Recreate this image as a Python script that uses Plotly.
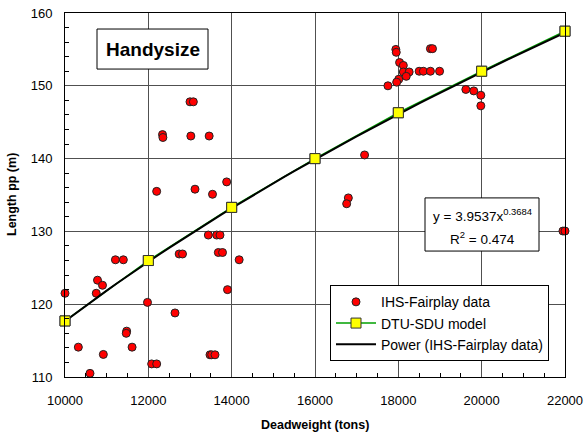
import plotly.graph_objects as go

# IHS-Fairplay data (deadweight tons, length pp m)
ihs_dwt = [13000, 13080, 12340, 12350, 13020, 13460, 12200, 13120, 13540, 13880,
           17940, 17950, 18770, 18820, 18030, 18120, 18120, 18260, 18190, 18010,
           17960, 17750, 18500, 18600, 18770, 18990, 19620, 19810, 19980, 19980,
           17190, 16800, 16760, 21950, 22000,
           13440, 13640, 13720, 12740, 12820, 13680, 13780, 11210, 11400, 14180,
           10780, 10900, 10000, 10750, 13900, 11980, 12640, 11480, 11470, 10320,
           11610, 10920, 13480, 13520, 13600, 12080, 12200, 10600]
ihs_len = [147.8, 147.8, 143.3, 142.9, 143.1, 143.1, 135.5, 135.8, 135.1, 136.8,
           155.0, 154.6, 155.1, 155.1, 153.2, 152.8, 151.9, 151.9, 151.3, 150.9,
           150.5, 150.0, 152.0, 152.0, 152.0, 152.0, 149.5, 149.3, 148.7, 147.25,
           140.5, 134.6, 133.8, 130.05, 130.05,
           129.5, 129.5, 129.5, 126.9, 126.9, 127.1, 127.1, 126.1, 126.1, 126.1,
           123.3, 122.6, 121.5, 121.5, 122.0, 120.25, 118.8, 116.3, 116.0, 114.1,
           114.1, 113.1, 113.05, 113.05, 113.05, 111.8, 111.8, 110.5]

# DTU-SDU model
model_dwt = [10000, 12000, 14000, 16000, 18000, 20000, 22000]
model_len = [117.7, 126.0, 133.3, 140.0, 146.3, 152.0, 157.5]

# Power fit (IHS-Fairplay data) as stated on the chart
fit_a = 3.9537
fit_b = 0.3684
fit_x = list(range(10000, 22001, 250))
fit_y = [fit_a * x ** fit_b for x in fit_x]

FONT = "Liberation Sans, Arial, sans-serif"

fig = go.Figure()
fig.add_trace(go.Scatter(
    x=ihs_dwt, y=ihs_len, mode="markers", name="IHS-Fairplay data",
    marker=dict(color="#ff0000", size=8, line=dict(color="#222222", width=1)),
    cliponaxis=False))
fig.add_trace(go.Scatter(
    x=model_dwt, y=model_len, mode="lines+markers", name="DTU-SDU model",
    line=dict(color="#00a000", width=1.5),
    marker=dict(symbol="square", color="#ffff00", size=10,
                line=dict(color="#333333", width=1)),
    cliponaxis=False))
fig.add_trace(go.Scatter(
    x=fit_x, y=fit_y, mode="lines", name="Power (IHS-Fairplay data)",
    line=dict(color="#000000", width=2)))

# re-draw model markers on top of the fit line
fig.add_trace(go.Scatter(
    x=model_dwt, y=model_len, mode="markers", showlegend=False,
    marker=dict(symbol="square", color="#ffff00", size=10,
                line=dict(color="#333333", width=1)),
    cliponaxis=False, hoverinfo="skip"))

fig.update_layout(
    width=585, height=436,
    margin=dict(l=65, r=20, t=13, b=59, autoexpand=False),
    paper_bgcolor="white", plot_bgcolor="white",
    font=dict(family=FONT, size=13, color="#000000"),
    xaxis=dict(range=[10000, 22000], dtick=2000, tickformat="d", automargin=False,
               showgrid=True, gridcolor="#505050", gridwidth=1,
               showline=True, linecolor="black", linewidth=1, mirror=True,
               ticks="inside", ticklen=0, zeroline=False, ticklabelstandoff=11,
               minor=dict(dtick=500, ticks="inside", ticklen=4, tickcolor="black", showgrid=False),
               tickfont=dict(size=13)),
    yaxis=dict(range=[110, 160], dtick=10, automargin=False,
               showgrid=True, gridcolor="#505050", gridwidth=1,
               showline=True, linecolor="black", linewidth=1, mirror=True,
               ticks="inside", ticklen=0, zeroline=False, ticklabelstandoff=9,
               minor=dict(dtick=2, ticks="inside", ticklen=4, tickcolor="black", showgrid=False),
               tickfont=dict(size=13)),
    legend=dict(x=0.53, y=0.252, xanchor="left", yanchor="top",
                bgcolor="white", bordercolor="black", borderwidth=1,
                font=dict(size=14), tracegroupgap=4, itemwidth=40),
    showlegend=True,
    shapes=[
        dict(type="rect", xref="paper", yref="paper",
             x0=0.72, x1=0.948, y0=0.346, y1=0.492,
             line=dict(color="black", width=1), fillcolor="white", layer="above"),
        dict(type="rect", xref="paper", yref="paper",
             x0=0.064, x1=0.286, y0=0.846, y1=0.956,
             line=dict(color="black", width=1), fillcolor="white", layer="above"),
    ],
    annotations=[
        dict(text="<b>Deadweight (tons)</b>", xref="paper", yref="paper",
             x=0.5, y=-0.132, xanchor="center", yanchor="middle", showarrow=False,
             font=dict(size=12.5)),
        dict(text="<b>Length pp (m)</b>", xref="paper", yref="paper",
             x=-0.106, y=0.5, xanchor="center", yanchor="middle", showarrow=False,
             textangle=-90, font=dict(size=12.5)),
        dict(text="<b>Handysize</b>", xref="paper", yref="paper",
             x=0.175, y=0.901, xanchor="center", yanchor="middle", showarrow=False,
             font=dict(size=19)),
        dict(text="y = 3.9537x<sup>0.3684</sup>",
             xref="paper", yref="paper", x=0.834, y=0.445, xanchor="center", yanchor="middle",
             showarrow=False, font=dict(size=13.5)),
        dict(text="R<sup>2</sup> = 0.474",
             xref="paper", yref="paper", x=0.834, y=0.382, xanchor="center", yanchor="middle",
             showarrow=False, font=dict(size=13.5)),
    ],
)

fig.write_html("out.html")
